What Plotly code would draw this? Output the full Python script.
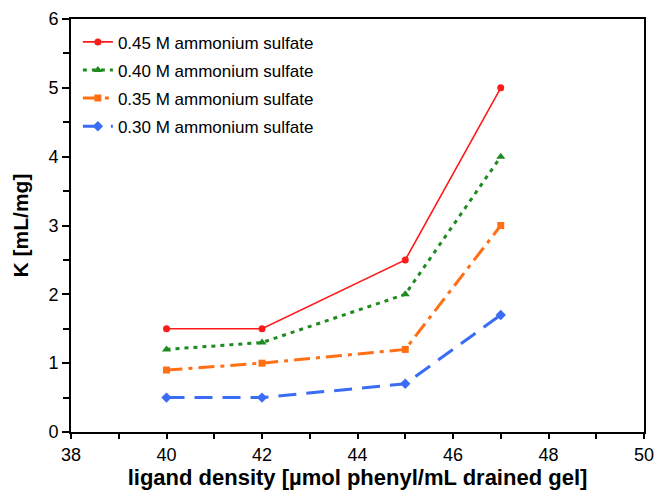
import plotly.graph_objects as go

x_vals = [40, 42, 45, 47]
k_045 = [1.5, 1.5, 2.5, 5.0]
k_040 = [1.2, 1.3, 2.0, 4.0]
k_035 = [0.9, 1.0, 1.2, 3.0]
k_030 = [0.5, 0.5, 0.7, 1.7]
names = ["0.45 M ammonium sulfate", "0.40 M ammonium sulfate",
         "0.35 M ammonium sulfate", "0.30 M ammonium sulfate"]
x_ticks = [38, 40, 42, 44, 46, 48, 50]
y_ticks = [0, 1, 2, 3, 4, 5, 6]

series = [
    (k_045, "#ff1a1a", "solid", 1.6, "circle", 7),
    (k_040, "#1f8a1f", "4px,5px", 3, "triangle-up", 8),
    (k_035, "#ff7015", "16px,6px,4px,6px", 3, "square", 7),
    (k_030, "#3a6cf5", "18px,10px", 3, "diamond", 8),
]

fig = go.Figure()
for i, ((y, c, d, w, m, s), n) in enumerate(zip(series, names)):
    fig.add_trace(go.Scatter(x=x_vals, y=y, name=n, mode="lines+markers",
                             legendgroup=f"g{i}",
                             line=dict(color=c, width=w, dash=d),
                             marker=dict(symbol=m, size=s, color=c)))

font = "Liberation Sans, Arial, sans-serif"
fig.update_layout(
    width=657, height=495,
    margin=dict(l=71, r=13, t=19, b=63),
    paper_bgcolor="white", plot_bgcolor="white",
    font=dict(family=font, size=18, color="black"),
    showlegend=True,
    legend=dict(x=0.012, y=0.987, xanchor="left", yanchor="top",
                bgcolor="rgba(0,0,0,0)", font=dict(size=17), tracegroupgap=3,
                itemwidth=30),
    xaxis=dict(range=[38, 50], tickvals=x_ticks, automargin=False,
               showgrid=False, zeroline=False, showline=True, linecolor="black",
               linewidth=2, mirror=True, ticks="outside", ticklen=5, tickwidth=1.5,
               tickcolor="black",
               minor=dict(tickvals=[39, 41, 43, 45, 47, 49], ticks="outside", ticklen=5,
                          tickcolor="black", tickwidth=1.5),
               title=dict(text="<b>ligand density [µmol phenyl/mL drained gel]</b>",
                          font=dict(size=22), standoff=0)),
    yaxis=dict(range=[0, 6], tickvals=y_ticks, automargin=False,
               showgrid=False, zeroline=False, showline=True, linecolor="black",
               linewidth=2, mirror=True, ticks="outside", ticklen=7, tickwidth=1.5,
               tickcolor="black",
               minor=dict(tickvals=[0.5, 1.5, 2.5, 3.5, 4.5, 5.5], ticks="outside",
                          ticklen=6, tickcolor="black", tickwidth=1.5),
               title=dict(text="<b>K [mL/mg]</b>", font=dict(size=21), standoff=14)),
)
fig.write_html("out.html")
